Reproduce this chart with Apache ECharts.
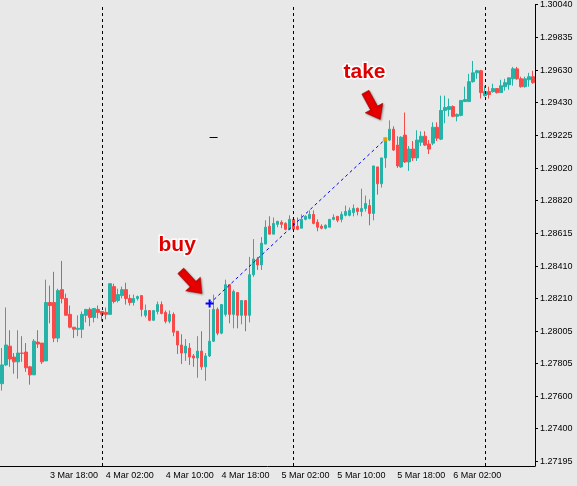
<!DOCTYPE html>
<html><head><meta charset="utf-8">
<script src="https://cdn.jsdelivr.net/npm/echarts@6/dist/echarts.min.js"></script>
<style>html,body{margin:0;padding:0;background:#e8e8e8}#c{width:577px;height:486px}</style>
</head><body><div id="c"></div>
<script>
// candles: [open, close, low, high]
const candles = [
[1.27677,1.27794,1.27634,1.27899],[1.27794,1.27918,1.27788,1.28152],[1.27911,1.27831,1.27782,1.28010],[1.27843,1.27813,1.27739,1.27868],
[1.27813,1.27868,1.27708,1.28010],[1.27868,1.27866,1.27813,1.27973],[1.27874,1.27776,1.27751,1.27930],[1.27782,1.27732,1.27671,1.27788],
[1.27732,1.27942,1.27732,1.27955],[1.27936,1.27924,1.27899,1.28010],[1.27930,1.27813,1.27800,1.27930],[1.27819,1.28183,1.27819,1.28325],
[1.28183,1.28164,1.28053,1.28288],[1.28183,1.27961,1.27936,1.28374],[1.27961,1.28257,1.27936,1.28269],[1.28263,1.28208,1.28177,1.28442],
[1.28208,1.28103,1.28103,1.28238],[1.28109,1.28029,1.28022,1.28164],[1.28029,1.28016,1.27961,1.28029],[1.28016,1.28022,1.27973,1.28103],
[1.28016,1.28109,1.27961,1.28127],[1.28103,1.28140,1.28059,1.28140],[1.28140,1.28090,1.28035,1.28152],[1.28090,1.28146,1.28059,1.28146],
[1.28140,1.28121,1.28084,1.28164],[1.28127,1.28109,1.28066,1.28127],[1.28121,1.28109,1.28078,1.28152],[1.28109,1.28300,1.28109,1.28300],
[1.28282,1.28189,1.28177,1.28300],[1.28195,1.28232,1.28183,1.28269],[1.28226,1.28263,1.28208,1.28282],[1.28263,1.28208,1.28170,1.28306],
[1.28208,1.28183,1.28164,1.28232],[1.28183,1.28208,1.28164,1.28232],[1.28208,1.28220,1.28195,1.28226],[1.28226,1.28140,1.28096,1.28226],
[1.28103,1.28133,1.28090,1.28170],[1.28133,1.28072,1.28066,1.28133],[1.28072,1.28133,1.28072,1.28133],[1.28127,1.28170,1.28109,1.28189],
[1.28170,1.28115,1.28109,1.28189],[1.28121,1.28066,1.28053,1.28133],[1.28066,1.28109,1.28053,1.28133],[1.28109,1.27998,1.27973,1.28121],
[1.28004,1.27918,1.27862,1.28004],[1.27918,1.27868,1.27800,1.27985],[1.27868,1.27911,1.27819,1.27955],[1.27899,1.27843,1.27794,1.27930],
[1.27850,1.27837,1.27782,1.27862],[1.27837,1.27880,1.27714,1.27973],[1.27880,1.27782,1.27763,1.28004],[1.27782,1.27850,1.27695,1.27868],
[1.27850,1.27942,1.27843,1.28140],[1.27942,1.28140,1.27936,1.28232],[1.28140,1.27992,1.27979,1.28152],[1.27992,1.28170,1.27985,1.28170],
[1.28109,1.28294,1.28096,1.28325],[1.28294,1.28109,1.28053,1.28294],[1.28109,1.28251,1.28022,1.28263],[1.28245,1.28103,1.28022,1.28245],
[1.28103,1.28195,1.28047,1.28195],[1.28195,1.28103,1.28004,1.28195],[1.28103,1.28356,1.28059,1.28467],[1.28356,1.28454,1.28343,1.28578],
[1.28454,1.28417,1.28386,1.28467],[1.28417,1.28553,1.28386,1.28590],[1.28547,1.28652,1.28547,1.28695],[1.28658,1.28609,1.28609,1.28720],
[1.28609,1.28676,1.28609,1.28713],[1.28670,1.28689,1.28652,1.28689],[1.28683,1.28670,1.28646,1.28695],[1.28676,1.28639,1.28633,1.28683],
[1.28639,1.28701,1.28633,1.28726],[1.28701,1.28639,1.28633,1.28713],[1.28658,1.28639,1.28633,1.28713],[1.28646,1.28701,1.28646,1.28732],
[1.28701,1.28720,1.28695,1.28726],[1.28707,1.28732,1.28701,1.28757],[1.28732,1.28676,1.28670,1.28757],[1.28683,1.28652,1.28627,1.28701],
[1.28658,1.28646,1.28639,1.28670],[1.28646,1.28664,1.28639,1.28670],[1.28652,1.28701,1.28652,1.28701],[1.28701,1.28713,1.28695,1.28732],
[1.28720,1.28695,1.28683,1.28720],[1.28701,1.28732,1.28683,1.28750],[1.28726,1.28750,1.28720,1.28787],[1.28726,1.28757,1.28720,1.28775],
[1.28744,1.28769,1.28720,1.28794],[1.28769,1.28750,1.28726,1.28775],[1.28750,1.28769,1.28720,1.28892],[1.28769,1.28800,1.28750,1.28849],
[1.28787,1.28738,1.28664,1.28825],[1.28738,1.29034,1.28695,1.29034],[1.29028,1.28923,1.28855,1.29028],[1.28923,1.29084,1.28899,1.29084],
[1.29084,1.29195,1.29022,1.29213],[1.29195,1.29263,1.29189,1.29318],[1.29263,1.29133,1.29127,1.29281],[1.29164,1.29034,1.29022,1.29219],
[1.29028,1.29213,1.29022,1.29219],[1.29226,1.29059,1.29053,1.29367],[1.29059,1.29139,1.29003,1.29158],[1.29139,1.29084,1.29065,1.29189],
[1.29084,1.29195,1.29065,1.29256],[1.29182,1.29219,1.29158,1.29250],[1.29219,1.29164,1.29158,1.29250],[1.29170,1.29139,1.29108,1.29195],
[1.29176,1.29275,1.29164,1.29306],[1.29275,1.29207,1.29189,1.29306],[1.29201,1.29380,1.29195,1.29472],[1.29380,1.29398,1.29300,1.29472],
[1.29386,1.29404,1.29343,1.29454],[1.29404,1.29343,1.29337,1.29411],[1.29343,1.29355,1.29312,1.29361],[1.29349,1.29442,1.29343,1.29442],
[1.29435,1.29448,1.29435,1.29528],[1.29435,1.29559,1.29435,1.29608],[1.29559,1.29614,1.29553,1.29688],[1.29614,1.29627,1.29577,1.29633],
[1.29627,1.29491,1.29454,1.29633],[1.29472,1.29497,1.29466,1.29534],[1.29497,1.29479,1.29454,1.29528],[1.29497,1.29516,1.29491,1.29546],
[1.29516,1.29491,1.29485,1.29516],[1.29491,1.29534,1.29491,1.29571],[1.29528,1.29553,1.29503,1.29577],[1.29540,1.29583,1.29509,1.29583],
[1.29577,1.29639,1.29534,1.29651],[1.29639,1.29577,1.29571,1.29651],[1.29577,1.29528,1.29522,1.29590],[1.29528,1.29577,1.29522,1.29590],
[1.29571,1.29590,1.29528,1.29614],[1.29590,1.29553,1.29546,1.29627]
];
const yTicks = [1.27195,1.27400,1.27600,1.27805,1.28005,1.28210,1.28410,1.28615,1.28820,1.29020,1.29225,1.29430,1.29630,1.29835,1.30040];
const xTickIdx = [12,26,41,55,70,84,99,113];
const xTickLabels = ['3 Mar 18:00','4 Mar 02:00','4 Mar 10:00','4 Mar 18:00','5 Mar 02:00','5 Mar 10:00','5 Mar 18:00','6 Mar 02:00'];
const daySeparators = [25,73,121];
const trade = {buyIdx:52, buyPrice:1.28176, takeIdx:96, takePrice:1.29200};
const levelMark = {from:52, to:54, price:1.29213};

const cats = candles.map((c,i)=>i);
const chart = echarts.init(document.getElementById('c'));
const FONT='Liberation Sans';
function arrow(cx,cy,rot){
  return {type:'polygon',x:cx,y:cy,rotation:rot,shape:{points:[[-4,-18],[4,-18],[4,0],[10,0],[0,13],[-10,0],[-4,0]]},
    style:{fill:'#e60000',stroke:'#a00000',lineWidth:0.5,shadowColor:'rgba(0,0,0,0.35)',shadowBlur:2,shadowOffsetX:1,shadowOffsetY:1}};
}
chart.setOption({
  backgroundColor:'#e8e8e8',
  animation:false,
  grid:{left:0,right:42,top:0,bottom:20},
  xAxis:{type:'category',data:cats,boundaryGap:true,
    axisLine:{lineStyle:{color:'#000'}},
    axisTick:{alignWithLabel:true,length:4,lineStyle:{color:'#000'},interval:(i)=>xTickIdx.includes(i)},
    axisLabel:{interval:(i)=>xTickIdx.includes(i),align:'left',margin:5,color:'#000',fontFamily:FONT,fontSize:9,
      formatter:(v)=>{const k=xTickIdx.indexOf(+v);return k>=0?xTickLabels[k]:'';}},
    splitLine:{show:false}},
  yAxis:{type:'value',position:'right',min:1.27164,max:1.30040,scale:true,
    axisLine:{show:true,lineStyle:{color:'#000'}},
    axisTick:{show:true,length:3,customValues:yTicks,lineStyle:{color:'#000'}},
    axisLabel:{customValues:yTicks,margin:5,color:'#000',fontFamily:FONT,fontSize:9,formatter:(v)=>v.toFixed(5)},
    splitLine:{show:false}},
  series:[{type:'candlestick',data:candles,barWidth:3,
    itemStyle:{color:'#26b2a6',color0:'#f94a4a',borderColor:'#26b2a6',borderColor0:'#f94a4a',borderWidth:1},
    markLine:{silent:true,symbol:['none','none'],label:{show:false},animation:false,
      data:[
        ...daySeparators.map(i=>({xAxis:i,lineStyle:{color:'#000',type:[3,3],width:1}})),
        [{coord:[trade.buyIdx,trade.buyPrice],lineStyle:{color:'#0000ff',type:[3,3],width:1}},{coord:[trade.takeIdx,trade.takePrice]}],
        [{coord:[levelMark.from,levelMark.price],lineStyle:{color:'#000040',type:'solid',width:1}},{coord:[levelMark.to,levelMark.price]}]
      ]},
    markPoint:{silent:true,label:{show:false},data:[
      {coord:[trade.buyIdx,trade.buyPrice],symbol:'path://M0,-1L0,1M-1,0L1,0',symbolSize:8,itemStyle:{color:'#0000ff',borderColor:'#0000ff',borderWidth:2}},
      {coord:[trade.takeIdx,trade.takePrice],symbol:'rect',symbolSize:4,itemStyle:{color:'#e0a000'}}
    ]}
  }],
  graphic:[
    {type:'text',left:157,top:233,style:{text:'buy',fill:'#e00000',font:'bold 21px "Liberation Sans"',stroke:'#fff',lineWidth:3}},
    {type:'text',left:342,top:60,style:{text:'take',fill:'#e00000',font:'bold 21px "Liberation Sans"',stroke:'#fff',lineWidth:3}},
    arrow(193,284,0.75),
    arrow(374,108,0.5)
  ]
});
</script></body></html>
